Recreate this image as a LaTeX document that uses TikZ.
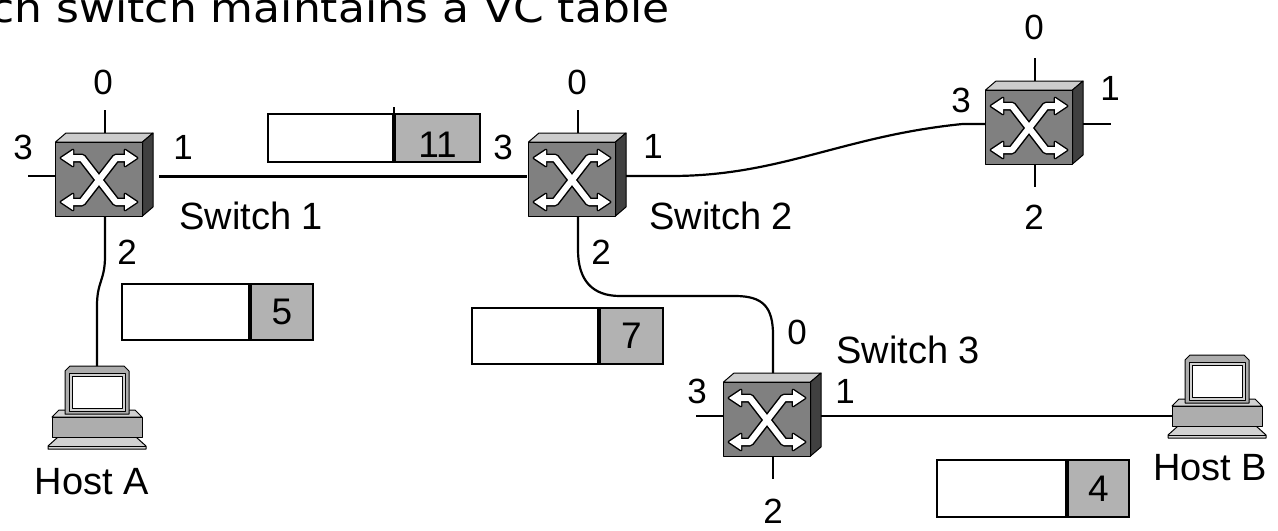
\documentclass[tikz,border=0pt]{standalone}
\usepackage{fontspec}
\setmainfont{Liberation Sans}
\newfontfamily\titlefont{DejaVu Sans}
\usetikzlibrary{calc}

\definecolor{swfront}{gray}{0.5}
\definecolor{swtop}{gray}{0.8}
\definecolor{swside}{gray}{0.25}
\definecolor{pcgray}{gray}{0.68}
\definecolor{pclight}{gray}{0.82}
\definecolor{pktgray}{gray}{0.7}

% crossed double arrows on the switch front
\newcommand\swxlines{(-26,-21) -- (-17,-21) -- (17,23) -- (26,23) (-26,23) -- (-17,23) -- (17,-21) -- (26,-21)}
\newcommand\swxheads{(-38,-21) -- (-26,-29) -- (-26,-13) -- cycle (-38,23) -- (-26,15) -- (-26,31) -- cycle (38,-21) -- (26,-29) -- (26,-13) -- cycle (38,23) -- (26,15) -- (26,31) -- cycle}

\tikzset{
  edgeline/.style={draw=black, line width=0.5pt, line join=round},
  wire/.style={line width=1.1pt},
  trunk/.style={line width=1.5pt},
  portnum/.style={font=\fontsize{17.5}{20}\selectfont, inner sep=0pt},
  devname/.style={font=\fontsize{19}{22}\selectfont, inner sep=0pt},
  pktbody/.style={draw, fill=white, line width=1pt, inner sep=0pt, anchor=east},
  pkthead/.style={draw, fill=pktgray, line width=1pt, inner sep=0pt, anchor=west,
    font=\fontsize{18.5}{21}\selectfont},
  pics/switchbox/.style={code={
    \coordinate (-p0) at (6,-46);
    \coordinate (-e0) at (6,-69);
    \coordinate (-p1) at (54,-3);
    \coordinate (-e1) at (82,-3);
    \coordinate (-p2) at (6,37);
    \coordinate (-e2) at (6,60);
    \coordinate (-p3) at (-43.5,-3);
    \coordinate (-e3) at (-71,-3);
    \filldraw[fill=swtop, edgeline] (-43.5,-37) -- (-33,-46) -- (54,-46) -- (43.5,-37) -- cycle;
    \filldraw[fill=swside, edgeline] (43.5,-37) -- (54,-46) -- (54,28) -- (43.5,37) -- cycle;
    \filldraw[fill=swfront, edgeline] (-43.5,-37) rectangle (43.5,37);
    \draw[black, line width=4.5pt, line join=round] \swxlines;
    \filldraw[black, line width=1.4pt, line join=round] \swxheads;
    \draw[white, line width=3pt, line join=round] \swxlines;
    \fill[white] \swxheads;
  }},
  pics/hostpc/.style={code={
    \coordinate (-top) at (0,0);
    \coordinate (-side) at (-45,61);
    % keyboard
    \filldraw[fill=pclight, edgeline] (-39,71) -- (39,71) -- (49,80) -- (49,83) -- (-49,83) -- (-49,80) -- cycle;
    \draw[edgeline] (-49,80) -- (49,80);
    % system unit
    \filldraw[fill=pclight, edgeline] (-45,51) -- (-38,44) -- (38,44) -- (45,51) -- cycle;
    \filldraw[fill=pcgray, edgeline] (-45,51) rectangle (45,71);
    % monitor
    \filldraw[fill=pcgray, edgeline] (-32,48) -- (-32,5) -- (-27,0) -- (27,0) -- (32,5) -- (32,48) -- cycle;
    \filldraw[fill=pclight, edgeline] (-28,7) rectangle (28,45);
    \filldraw[fill=white, edgeline] (-25,10) rectangle (25,42);
  }},
}

\begin{document}
\begin{tikzpicture}[x=0.5pt, y=-0.5pt]
\useasboundingbox (0,0) rectangle (1278,530);
\clip (0,0) rectangle (1278,530);

% title
\node[font=\titlefont\fontsize{20}{24}\selectfont, anchor=base west, inner sep=0pt, xscale=1.1]
  (title) at (-10,22) {ch switch maintains a VC table};

% switch centres
\path (99,179) coordinate (s1c) (572,179) coordinate (s2c) (1029,127) coordinate (s4c) (767,419) coordinate (s3c);

% trunk between switch 1 and switch 2
\coordinate (s1-p1) at (153,176);
\coordinate (s2-p3) at (528.5,176);
\draw[trunk, shorten <=3pt, shorten >=1pt] (s1-p1) -- (s2-p3);

\pic (s1) at (s1c) {switchbox};
\pic (s2) at (s2c) {switchbox};
\pic (s4) at (s4c) {switchbox};
\pic (s3) at (s3c) {switchbox};
\pic (ha) at (97,366) {hostpc};
\pic (hb) at (1217,355) {hostpc};

% cabling
\draw[wire] (s2-p1) -- ++(45,0) .. controls +(110,0) and +(-120,12) .. ($(s4-p3)+(-23,0)$) -- (s4-p3);
\draw[wire] (s2-p2) -- ++(0,34) .. controls +(0,30) and +(-28,0) .. ++(42,46) -- ++(115,0)
  .. controls +(28,0) and +(0,-28) .. ++(38,39) -- (s3-p0);
\draw[wire] (s1-p2) -- ++(0,40) .. controls +(0,25) and +(0,-25) .. ++(-8,50) -- (ha-top);
\draw[wire] (s3-p1) -- (hb-side);

% unused port stubs
\draw[wire] (s1-p0) -- (s1-e0) (s1-p3) -- (s1-e3);
\draw[wire] (s2-p0) -- (s2-e0);
\draw[wire] (s4-p0) -- (s4-e0) (s4-p1) -- (s4-e1) (s4-p2) -- (s4-e2);
\draw[wire] (s3-p3) -- (s3-e3) (s3-p2) -- (s3-e2);

% port numbers
\node[portnum] (s1n0) at (103,82) {0};
\node[portnum] (s1n3) at (23,147) {3};
\node[portnum] (s1n1) at (183,147) {1};
\node[portnum] (s1n2) at (127,252) {2};
\node[portnum] (s2n0) at (577,82) {0};
\node[portnum] (s2n3) at (503,147) {3};
\node[portnum] (s2n1) at (653,146) {1};
\node[portnum] (s2n2) at (601,252) {2};
\node[portnum] (s4n0) at (1034,27) {0};
\node[portnum] (s4n1) at (1110,88) {1};
\node[portnum] (s4n2) at (1034,217) {2};
\node[portnum] (s4n3) at (961,100) {3};
\node[portnum] (s3n0) at (797,332) {0};
\node[portnum] (s3n3) at (697,391) {3};
\node[portnum] (s3n1) at (845,391) {1};
\node[portnum] (s3n2) at (773,511) {2};

% device names
\node[devname, anchor=west] (s1name) at (179,216) {Switch 1};
\node[devname, anchor=west] (s2name) at (649,216) {Switch 2};
\node[devname, anchor=west] (s3name) at (836,350) {Switch 3};
\node[devname] (haname) at (92,482) {Host A};
\node[devname] (hbname) at (1210,468) {Host B};

% packets with their VC numbers
\node[pktbody, minimum width=62.5pt, minimum height=24pt] (k11b) at (394,138) {};
\node[pkthead, minimum width=42.5pt, minimum height=24pt,
  label={[font=\fontsize{18.5}{21}\selectfont, yshift=-3.5pt]center:11}] (k11h) at (394,138) {};
\draw[line width=1pt] (k11h.north west) -- ++(0,-6);

\node[pktbody, minimum width=63.5pt, minimum height=28pt] (k5b) at (250,312) {};
\node[pkthead, minimum width=31pt, minimum height=28pt] (k5h) at (250,312) {5};

\node[pktbody, minimum width=63pt, minimum height=28pt] (k7b) at (599,336) {};
\node[pkthead, minimum width=31.5pt, minimum height=28pt] (k7h) at (599,336) {7};

\node[pktbody, minimum width=64.5pt, minimum height=28.5pt] (k4b) at (1067,488.5) {};
\node[pkthead, minimum width=30.5pt, minimum height=28.5pt] (k4h) at (1067,488.5) {4};
\end{tikzpicture}
\end{document}
